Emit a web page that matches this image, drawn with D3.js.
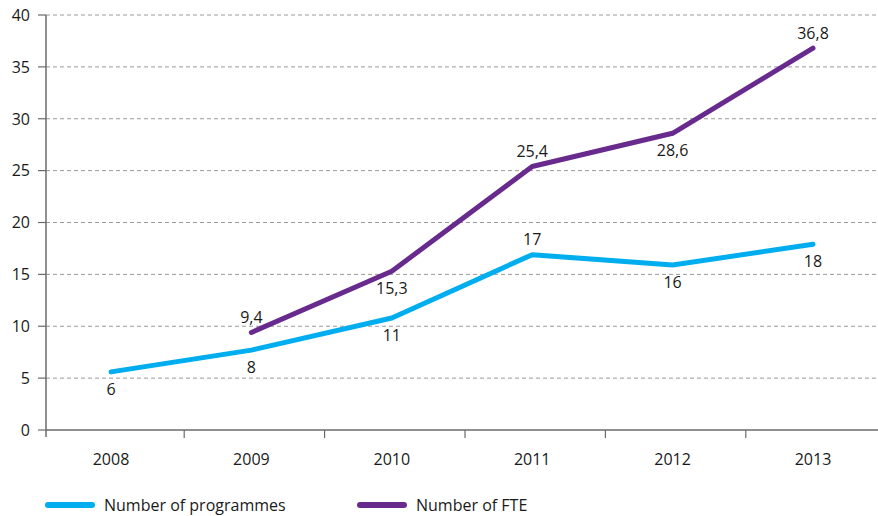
<!DOCTYPE html>
<html><head><meta charset="utf-8">
<script src="https://cdn.jsdelivr.net/npm/d3@7"></script>
<style>body{margin:0;background:#fff}svg{display:block}text{font-family:"Open Sans","Noto Sans",sans-serif;fill:#1a1a1a}</style>
</head><body><svg id="c" width="878" height="516"></svg>
<script>
const years = ["2008","2009","2010","2011","2012","2013"];
const programmes = [5.6, 7.7, 10.8, 16.9, 15.9, 17.9];
const programmeLabels = ["6","8","11","17","16","18"];
const programmeLabelSide = ["below","below","below","above","below","below"];
const fteYears = ["2009","2010","2011","2012","2013"];
const fte = [9.4, 15.3, 25.4, 28.6, 36.8];
const fteLabels = ["9,4","15,3","25,4","28,6","36,8"];
const fteLabelSide = ["above","below","above","below","above"];
const yTicks = [0,5,10,15,20,25,30,35,40];
const seriesNames = ["Number of programmes","Number of FTE"];
const colors = ["#00aeef","#682a8d"];

const svg = d3.select("#c");
const x0 = 46, xr = 878;
const fs = 16;
const x = d3.scalePoint().domain(years).range([111, 813]);
const y = d3.scaleLinear().domain([0,40]).range([430, 15]);

// grid
svg.append("g").selectAll("line").data(yTicks.filter(d=>d>0)).join("line")
  .attr("x1", x0).attr("x2", xr).attr("y1", d=>y(d)).attr("y2", d=>y(d))
  .attr("stroke","#9a9a9a").attr("stroke-width",1).attr("stroke-dasharray","4,3");

// y axis
const ya = svg.append("g");
ya.append("line").attr("x1",x0).attr("x2",x0).attr("y1",y(40)).attr("y2",437).attr("stroke","#6b6b6b").attr("stroke-width",1.5);
ya.selectAll("line.t").data(yTicks).join("line").attr("class","t")
  .attr("x1",38).attr("x2",x0).attr("y1",d=>y(d)).attr("y2",d=>y(d)).attr("stroke","#6b6b6b").attr("stroke-width",1.2);
ya.selectAll("text").data(yTicks).join("text")
  .attr("x",30).attr("y",d=>y(d)).attr("dy","0.36em").attr("text-anchor","end")
  .attr("font-size",fs).text(d=>d);

// x axis
const xa = svg.append("g");
xa.append("line").attr("x1",x0).attr("x2",xr).attr("y1",y(0)).attr("y2",y(0)).attr("stroke","#6b6b6b").attr("stroke-width",1.5);
const step = x.step();
const bounds = years.slice(1).map(d => x(d) - step/2 + 3);
xa.selectAll("line.t").data(bounds).join("line").attr("class","t")
  .attr("x1",d=>d).attr("x2",d=>d).attr("y1",y(0)).attr("y2",y(0)+8).attr("stroke","#6b6b6b").attr("stroke-width",1.2);
xa.selectAll("text").data(years).join("text")
  .attr("x",d=>x(d)).attr("y",459).attr("dy","0.36em").attr("text-anchor","middle")
  .attr("font-size",fs).text(d=>d);

// lines
const line = d3.line().x(d=>x(d[0])).y(d=>y(d[1]));
const progData = years.map((yr,i)=>[yr, programmes[i]]);
const fteData = fteYears.map((yr,i)=>[yr, fte[i]]);
svg.append("path").datum(progData).attr("d",line).attr("fill","none")
  .attr("stroke",colors[0]).attr("stroke-width",5).attr("stroke-linecap","round").attr("stroke-linejoin","round");
svg.append("path").datum(fteData).attr("d",line).attr("fill","none")
  .attr("stroke",colors[1]).attr("stroke-width",5).attr("stroke-linecap","round").attr("stroke-linejoin","round");

// labels
function labels(data, texts, sides){
  svg.append("g").selectAll("text").data(data).join("text")
    .attr("x",d=>x(d[0])).attr("y",(d,i)=>y(d[1]) + (sides[i]==="above" ? -15 : 17))
    .attr("dy","0.36em").attr("text-anchor","middle").attr("font-size",fs)
    .text((d,i)=>texts[i]);
}
labels(progData, programmeLabels, programmeLabelSide);
labels(fteData, fteLabels, fteLabelSide);

// legend
const lg = svg.append("g");
const lx = [48, 360];
seriesNames.forEach((n,i)=>{
  lg.append("line").attr("x1",lx[i]).attr("x2",lx[i]+44).attr("y1",505).attr("y2",505)
    .attr("stroke",colors[i]).attr("stroke-width",6).attr("stroke-linecap","round");
  lg.append("text").attr("x",lx[i]+56).attr("y",505).attr("dy","0.36em").attr("font-size",fs).text(n);
});
</script></body></html>
